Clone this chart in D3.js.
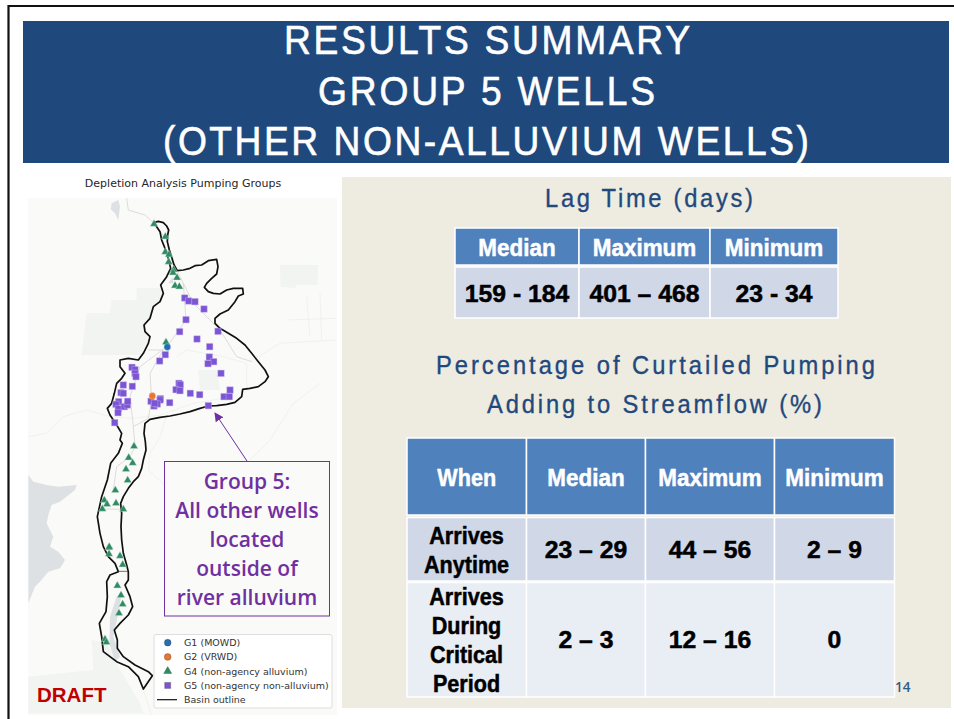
<!DOCTYPE html>
<html>
<head>
<meta charset="utf-8">
<script src="https://cdn.jsdelivr.net/npm/d3@7"></script>
<style>
  html, body { margin: 0; padding: 0; background: #fff; }
  svg { display: block; }
</style>
</head>
<body>
<script>
// slide text
var titleLines = ["RESULTS SUMMARY", "GROUP 5 WELLS", "(OTHER NON-ALLUVIUM WELLS)"];
var lagTitle = "Lag Time (days)";
var pctTitle = ["Percentage of Curtailed Pumping", "Adding to Streamflow (%)"];
var mapTitle = "Depletion Analysis Pumping Groups";
var calloutLines = ["Group 5:", "All other wells", "located", "outside of", "river alluvium"];

// tables
var lagHeaders = ["Median", "Maximum", "Minimum"];
var lagValues = ["159 - 184", "401 \u2013 468", "23 - 34"];
var pctHeaders = ["When", "Median", "Maximum", "Minimum"];
var pctAnytimeLabel = ["Arrives", "Anytime"];
var pctAnytime = ["23 \u2013 29", "44 \u2013 56", "2 \u2013 9"];
var pctCriticalLabel = ["Arrives", "During", "Critical", "Period"];
var pctCritical = ["2 \u2013 3", "12 \u2013 16", "0"];

// wells, in map units
var g1Wells = [[442, 531]];
var g2Wells = [[397, 678]];
var g4Wells = [[402, 162], [436, 200], [436, 246], [447, 254], [446, 276], [461, 299], [459, 308], [471, 323],
  [465, 347], [478, 350], [438, 517], [342, 829], [326, 863], [338, 879], [318, 898], [323, 931], [286, 961],
  [253, 991], [261, 1003], [288, 1000], [247, 1017], [310, 1018], [266, 1133], [268, 1131], [267, 1152],
  [300, 1158], [308, 1184], [292, 1247], [303, 1276], [308, 1303], [297, 1330], [255, 1408], [259, 1417]];
var g5Wells = [[494, 384], [506, 393], [525, 395], [552, 417], [498, 449], [479, 485], [531, 507], [594, 484],
  [569, 530], [568, 561], [581, 575], [564, 581], [603, 610], [436, 554], [419, 573], [336, 592], [345, 599],
  [345, 610], [348, 620], [310, 645], [337, 649], [303, 668], [310, 670], [296, 695], [288, 703], [295, 716],
  [294, 728], [313, 710], [322, 705], [323, 694], [284, 758], [393, 694], [421, 686], [420, 690], [402, 708],
  [412, 702], [404, 700], [449, 698], [477, 640], [481, 644], [468, 659], [480, 662], [511, 670], [539, 674],
  [630, 660], [612, 680], [628, 680], [565, 707]];

var basinOutline = [[402, 158], [415, 154], [430, 158], [440, 168], [446, 180], [443, 195], [442, 215], [448, 240],
  [455, 262], [462, 285], [472, 302], [490, 300], [510, 295], [525, 287], [545, 285], [565, 272], [590, 268],
  [594, 290], [590, 312], [575, 325], [560, 340], [553, 352], [565, 365], [580, 370], [600, 372], [620, 360],
  [640, 355], [668, 355], [670, 372], [655, 378], [645, 395], [625, 420], [600, 432], [585, 445], [585, 460],
  [600, 475], [625, 490], [650, 505], [675, 525], [695, 550], [715, 575], [735, 600], [745, 620], [735, 635],
  [715, 650], [690, 655], [668, 658], [665, 680], [645, 697], [620, 703], [590, 707], [565, 708], [540, 715],
  [510, 725], [480, 732], [450, 738], [420, 742], [390, 748], [375, 760], [372, 790], [376, 815], [378, 840],
  [370, 870], [365, 895], [355, 920], [340, 935], [325, 955], [310, 980], [302, 1000], [305, 1030], [303, 1070],
  [305, 1110], [310, 1150], [320, 1185], [325, 1205], [325, 1230], [315, 1245], [330, 1280], [338, 1310],
  [325, 1335], [300, 1360], [283, 1380], [292, 1410], [292, 1435], [310, 1460], [345, 1485], [385, 1505],
  [397, 1517], [370, 1557], [355, 1520], [325, 1490], [290, 1475], [250, 1445], [245, 1400], [238, 1360],
  [258, 1325], [262, 1280], [260, 1235], [270, 1215], [295, 1205], [285, 1180], [265, 1160], [250, 1130],
  [240, 1090], [232, 1040], [245, 980], [262, 930], [272, 880], [295, 850], [307, 820], [300, 810], [305, 790],
  [290, 765], [270, 735], [262, 715], [275, 700], [283, 670], [290, 640], [305, 625], [315, 610], [300, 590],
  [300, 570], [325, 565], [355, 570], [370, 550], [385, 520], [390, 500], [375, 485], [372, 465], [390, 445],
  [400, 410], [420, 395], [430, 370], [422, 345], [440, 320], [452, 295], [445, 265], [435, 235], [425, 210],
  [420, 185], [410, 170], [402, 158]];
var basinCrossing = [[292, 1204], [325, 1204]];

// basemap shapes
var greenAreas = [
  [[200, 430], [270, 430], [275, 390], [350, 390], [350, 355], [420, 355], [430, 380], [400, 420], [375, 470], [385, 510], [360, 555], [185, 555]],
  [[780, 285], [895, 285], [892, 345], [830, 345], [825, 355], [782, 350]],
  [[535, 600], [590, 600], [600, 660], [540, 660]],
  [[25, 1520], [220, 1500], [215, 1410], [260, 1420], [300, 1500], [360, 1600], [370, 1630], [25, 1630]]
];
var waterAreas = [
  [[25, 915], [40, 935], [80, 945], [115, 950], [170, 945], [165, 960], [120, 995], [95, 1005], [85, 1035], [80, 1060], [100, 1100], [90, 1130], [115, 1145], [135, 1170], [120, 1195], [85, 1205], [60, 1235], [45, 1250], [25, 1300]],
  [[275, 100], [295, 90], [300, 110], [295, 150], [285, 130], [272, 118]],
  [[290, 1280], [305, 1270], [295, 1330], [280, 1400], [300, 1460], [285, 1475], [268, 1420], [270, 1340]],
  [[445, 340], [458, 320], [460, 340]]
];
var mainRoads = [
  [[320, 85], [325, 120], [375, 135], [402, 160], [440, 210], [470, 300], [490, 340], [520, 400], [600, 480], [650, 560], [695, 575]],
  [[490, 340], [498, 450], [470, 490], [440, 530], [360, 590], [330, 680], [340, 770], [345, 830]],
  [[385, 540], [430, 540], [390, 610], [395, 690], [385, 745], [340, 770]],
  [[345, 830], [330, 860], [290, 890], [280, 960]],
  [[247, 1017], [310, 1018]]
];
var minorRoads = [
  [[25, 800], [80, 790], [130, 740], [200, 720], [270, 740], [340, 745], [420, 735], [520, 700], [640, 680]],
  [[440, 735], [420, 800], [390, 850], [385, 900], [450, 960], [500, 1000], [600, 1100], [700, 1250]],
  [[690, 575], [780, 520], [950, 510]],
  [[640, 810], [680, 880], [750, 810], [820, 700], [900, 640]],
  [[470, 560], [500, 540], [610, 560], [680, 580], [680, 660]],
  [[25, 1120], [70, 1040], [25, 960]],
  [[370, 1560], [395, 1635]],
  [[860, 380], [870, 500]],
  [[900, 370], [905, 510]],
  [[800, 450], [950, 445]]
];

var legendItems = ["G1 (MOWD)", "G2 (VRWD)", "G4 (non-agency alluvium)", "G5 (non-agency non-alluvium)", "Basin outline"];

var svg = d3.select("body").append("svg")
  .attr("width", 954)
  .attr("height", 719);

var bodyFont = "'Liberation Sans', sans-serif";
var navy = "#1f497d";
var purple = "#7030a0";

// frame
svg.append("path").attr("d", "M8.5,719V6H954").attr("fill", "none").attr("stroke", "#111").attr("stroke-width", 2.2);

// squeezed text, letters narrowed and spaced out to fill a span
function spacedText(str, x0, x1, base, size, squeeze, fill, weight) {
  svg.append("text")
    .attr("transform", "translate(" + x0 + "," + base + ") scale(" + squeeze + ",1)")
    .attr("textLength", (x1 - x0) / squeeze)
    .attr("lengthAdjust", "spacing")
    .attr("font-family", bodyFont)
    .attr("font-size", size)
    .attr("fill", fill)
    .attr("stroke", fill)
    .attr("stroke-width", weight)
    .text(str);
}

// header
svg.append("rect").attr("x", 23).attr("y", 21).attr("width", 926).attr("height", 142).attr("fill", navy);
var titleSpan = [[284, 690, 54], [318, 655, 105], [163, 809, 155]];
titleLines.forEach(function(t, i) {
  spacedText(t, titleSpan[i][0], titleSpan[i][1], titleSpan[i][2], 40, 0.93, "#fff", 0.6);
});
// covers the bottom of the parentheses, they are cut by the band in the slide
svg.append("rect").attr("x", 23).attr("y", 163).attr("width", 926).attr("height", 8).attr("fill", "#fff");

// map
var x = d3.scaleLinear().domain([24, 951]).range([28, 337]);
var y = d3.scaleLinear().domain([84, 1635]).range([198, 715]);
var line = d3.line().x(function(d) { return x(d[0]); }).y(function(d) { return y(d[1]); });

svg.append("text").attr("x", 183).attr("y", 187).attr("text-anchor", "middle")
  .attr("font-family", "'DejaVu Sans', sans-serif").attr("font-size", 11).attr("fill", "#262626").text(mapTitle);

svg.append("rect").attr("x", x(24)).attr("y", y(84)).attr("width", x(951) - x(24)).attr("height", y(1635) - y(84)).attr("fill", "#fafaf8");

svg.selectAll("path.green").data(greenAreas).enter().append("path")
  .attr("class", "green").attr("d", function(d) { return line(d) + "Z"; }).attr("fill", "#f1f4f0");
svg.selectAll("path.minor").data(minorRoads).enter().append("path")
  .attr("class", "minor").attr("d", line).attr("fill", "none").attr("stroke", "#ececea").attr("stroke-width", 0.7);
svg.selectAll("path.road").data(mainRoads).enter().append("path")
  .attr("class", "road").attr("d", line).attr("fill", "none").attr("stroke", "#d4d4d2").attr("stroke-width", 0.8);
svg.selectAll("path.water").data(waterAreas).enter().append("path")
  .attr("class", "water").attr("d", function(d) { return line(d) + "Z"; }).attr("fill", "#dee1e4");

svg.append("path").attr("d", line(basinOutline)).attr("fill", "none").attr("stroke", "#111").attr("stroke-width", 1.7).attr("stroke-linejoin", "round");
svg.append("path").attr("d", line(basinCrossing)).attr("fill", "none").attr("stroke", "#333").attr("stroke-width", 0.7);

var triangle = d3.symbol().type(d3.symbolTriangle).size(26);
var square = d3.symbol().type(d3.symbolSquare).size(42);
var dot = d3.symbol().type(d3.symbolCircle).size(36);

function drawWells(wells, sym, fill, edge) {
  svg.append("g").selectAll("path").data(wells).enter().append("path")
    .attr("d", sym)
    .attr("transform", function(d) { return "translate(" + x(d[0]) + "," + y(d[1]) + ")"; })
    .attr("fill", fill)
    .attr("stroke", edge)
    .attr("stroke-width", 0.4);
}
drawWells(g4Wells, triangle, "#2e8b62", "#cfe3da");
drawWells(g5Wells, square, "#7b55d3", "#c9bcef");
drawWells(g1Wells, dot, "#1f6fb4", "#cfe0ef");
drawWells(g2Wells, dot, "#e8762b", "#f5d5bf");

// callout
svg.append("defs").append("marker")
  .attr("id", "arrow").attr("viewBox", "0 0 10 10").attr("refX", 9).attr("refY", 5)
  .attr("markerWidth", 9).attr("markerHeight", 9).attr("markerUnits", "userSpaceOnUse").attr("orient", "auto")
  .append("path").attr("d", "M0,0L10,5L0,10Z").attr("fill", purple);
svg.append("line").attr("x1", 247).attr("y1", 461).attr("x2", 215).attr("y2", 413)
  .attr("stroke", purple).attr("stroke-width", 1).attr("marker-end", "url(#arrow)");
svg.append("rect").attr("x", 164.5).attr("y", 461.5).attr("width", 165).attr("height", 154.5)
  .attr("fill", "#fafaf8").attr("stroke", purple).attr("stroke-width", 1);
var calloutBase = [489, 518, 547, 576, 605];
svg.selectAll("text.callout").data(calloutLines).enter().append("text")
  .attr("class", "callout")
  .attr("x", 247)
  .attr("y", function(d, i) { return calloutBase[i]; })
  .attr("text-anchor", "middle")
  .attr("font-family", "'Open Sans', sans-serif")
  .attr("font-weight", 600)
  .attr("font-size", 21)
  .attr("fill", purple)
  .text(function(d) { return d; });

// legend
svg.append("rect").attr("x", 154).attr("y", 634.5).attr("width", 178).attr("height", 73.5).attr("rx", 2)
  .attr("fill", "#fff").attr("stroke", "#dedede");
var legendY = d3.scalePoint().domain(legendItems).range([642.7, 699.7]);
var legendMarks = [
  { sym: d3.symbol().type(d3.symbolCircle).size(36), fill: "#2a6db0" },
  { sym: d3.symbol().type(d3.symbolCircle).size(36), fill: "#e8762b" },
  { sym: d3.symbol().type(d3.symbolTriangle).size(28), fill: "#2e8b62" },
  { sym: d3.symbol().type(d3.symbolSquare).size(36), fill: "#7b55d3" }
];
legendMarks.forEach(function(m, i) {
  svg.append("path").attr("d", m.sym)
    .attr("transform", "translate(167.7," + legendY(legendItems[i]) + ")")
    .attr("fill", m.fill).attr("stroke", "#333").attr("stroke-width", 0.3);
});
svg.append("line").attr("x1", 157).attr("x2", 177).attr("y1", legendY(legendItems[4])).attr("y2", legendY(legendItems[4]))
  .attr("stroke", "#111").attr("stroke-width", 1.2);
svg.selectAll("text.legend").data(legendItems).enter().append("text")
  .attr("class", "legend")
  .attr("x", 184)
  .attr("y", function(d) { return legendY(d); })
  .attr("dy", "0.35em")
  .attr("font-family", "'DejaVu Sans', sans-serif")
  .attr("font-size", 9.5)
  .attr("fill", "#333")
  .text(function(d) { return d; });

svg.append("text").attr("x", 37).attr("y", 702).attr("font-family", "'Liberation Sans', sans-serif")
  .attr("font-weight", "bold").attr("font-size", 20.5).attr("fill", "#c00000").text("DRAFT");

// right panel
svg.append("rect").attr("x", 342).attr("y", 177).attr("width", 609).attr("height", 531).attr("fill", "#eeebe0");

spacedText(lagTitle, 545, 753, 207, 25, 0.95, navy, 0.35);
spacedText(pctTitle[0], 436, 875, 374, 25, 0.95, navy, 0.35);
spacedText(pctTitle[1], 487, 822, 413, 25, 0.95, navy, 0.35);

function cell(x0, x1, y0, y1, fill) {
  svg.append("rect").attr("x", x0).attr("y", y0).attr("width", x1 - x0).attr("height", y1 - y0)
    .attr("fill", fill).attr("stroke", "#fff").attr("stroke-width", 1.5);
}
function cellText(str, cx, base, fill, squeeze) {
  svg.append("text")
    .attr("transform", "translate(" + cx + "," + base + ") scale(" + squeeze + ",1)")
    .attr("text-anchor", "middle")
    .attr("font-family", bodyFont).attr("font-weight", "bold").attr("font-size", 24)
    .attr("fill", fill).attr("stroke", fill).attr("stroke-width", 0.5)
    .text(str);
}

var headBlue = "#4f81bd", rowDark = "#d0d8e8", rowLight = "#e9edf4";
var headSqueeze = 0.935, valueSqueeze = 1.03, labelSqueeze = 0.9;

// lag table
var lagEdges = [455, 579, 710, 838];
lagHeaders.forEach(function(h, i) {
  cell(lagEdges[i], lagEdges[i + 1], 228, 265, headBlue);
  cell(lagEdges[i], lagEdges[i + 1], 267, 318, rowDark);
  var cx = (lagEdges[i] + lagEdges[i + 1]) / 2;
  cellText(h, cx, 256, "#fff", headSqueeze);
  cellText(lagValues[i], cx, 302, "#000", valueSqueeze);
});

// percentage table
var pctEdges = [407, 526.5, 645.5, 774.5, 894.5];
pctHeaders.forEach(function(h, i) {
  var cx = (pctEdges[i] + pctEdges[i + 1]) / 2;
  cell(pctEdges[i], pctEdges[i + 1], 438, 515, headBlue);
  cell(pctEdges[i], pctEdges[i + 1], 517.5, 581, rowDark);
  cell(pctEdges[i], pctEdges[i + 1], 582.5, 697, rowLight);
  cellText(h, cx, 486, "#fff", i == 0 ? labelSqueeze : headSqueeze);
  if (i > 0) {
    cellText(pctAnytime[i - 1], cx, 558, "#000", valueSqueeze);
    cellText(pctCritical[i - 1], cx, 648, "#000", valueSqueeze);
  }
});
var anytimeBase = [544, 573], criticalBase = [605, 634, 663, 692];
pctAnytimeLabel.forEach(function(t, i) { cellText(t, 466.5, anytimeBase[i], "#000", labelSqueeze); });
pctCriticalLabel.forEach(function(t, i) { cellText(t, 466.5, criticalBase[i], "#000", labelSqueeze); });

svg.append("text").attr("x", 895).attr("y", 692).attr("font-family", "'Open Sans', sans-serif")
  .attr("font-weight", 600).attr("font-size", 13.5).attr("fill", "#2f5a8c").text("14");
</script>
</body>
</html>
